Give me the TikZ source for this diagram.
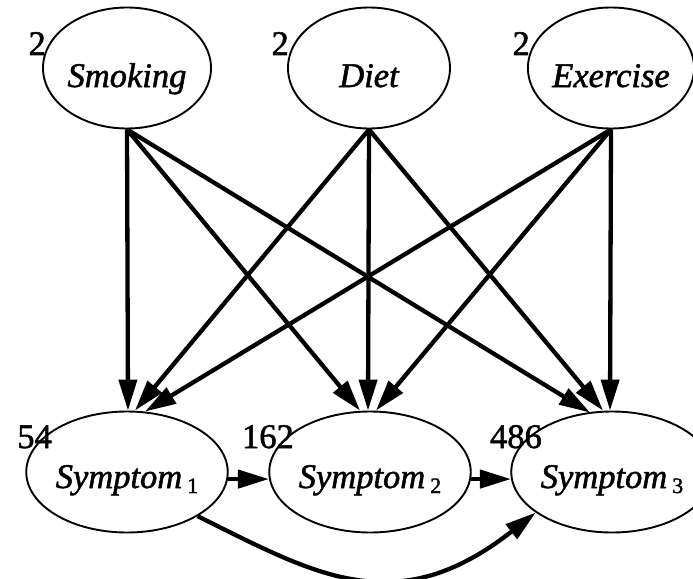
\documentclass[tikz,border=0pt]{standalone}
\usepackage{fontspec}
\setmainfont{Liberation Serif}[FakeBold=1.5]
\usetikzlibrary{arrows.meta,shapes.geometric}
\tikzset{
  ell/.style={ellipse, draw, line width=1.9pt, inner sep=0pt, font=\fontsize{34.5pt}{36pt}\selectfont\itshape},
  topell/.style={ell, minimum width=162pt, minimum height=121pt, text height=38pt, text depth=0pt},
  botell/.style={ell, minimum width=161pt, minimum height=121pt, text height=32pt, text depth=0pt},
  num/.style={anchor=base east, inner sep=0pt, font=\fontsize{34.5pt}{36pt}\selectfont},
  edge/.style={line width=4.3pt, -{Triangle[length=31pt,width=18pt]}},
}
\newcommand{\subidx}[1]{\hspace{5pt}\raisebox{-5pt}{\fontsize{22pt}{22pt}\selectfont\upshape #1}}
\begin{document}
\begin{tikzpicture}[x=1pt,y=1pt]
\useasboundingbox (0,0) rectangle (693,-578);
% top nodes
\node[topell] (smk) at (127,-68) {Smoking};
\node[topell] (diet) at (369,-68) {Diet};
\node[topell, minimum width=156pt] (exe) at (611,-68) {Exercise};
% bottom nodes
\node[botell] (s1) at (127,-472) {Symptom\subidx{1}};
\node[botell] (s2) at (370,-472) {Symptom\subidx{2}};
\node[botell] (s3) at (612,-472) {Symptom\subidx{3}};
% numbers
\node[num] (n1) at (46,-55) {2};
\node[num] (n2) at (289,-55) {2};
\node[num] (n3) at (530,-55) {2};
\node[num] (n4) at (52,-448) {54};
\node[num] (n5) at (294,-448) {162};
\node[num] (n6) at (542,-448) {486};
% edges to symptom 1
\draw[edge] (smk.south) -- ([xshift=1pt]s1.north);
\draw[edge] (diet.south) -- ([xshift=8pt]s1.north);
\draw[edge] (exe.south) -- ([xshift=18pt,yshift=-1pt]s1.north);
% edges to symptom 2
\draw[edge] (smk.south) -- ([xshift=-10pt]s2.north);
\draw[edge] (diet.south) -- ([xshift=-2pt]s2.north);
\draw[edge] (exe.south) -- ([xshift=6pt]s2.north);
% edges to symptom 3
\draw[edge] (smk.south) -- ([xshift=-22pt,yshift=-2pt]s3.north);
\draw[edge] (diet.south) -- ([xshift=-9pt]s3.north);
\draw[edge] (exe.south) -- ([xshift=-2pt]s3.north);
% chain
\draw[edge] (s1.-4) -- (s2.184);
\draw[edge] (s2.-4) -- (s3.184);
\draw[edge] (s1.-32) .. controls +(117,-58) and +(-140,-110) .. (s3.-152);
\end{tikzpicture}
\end{document}
